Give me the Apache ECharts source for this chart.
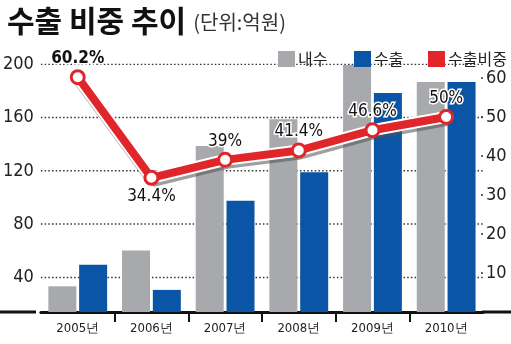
<!DOCTYPE html>
<html>
<head>
<meta charset="utf-8">
<script src="https://cdn.jsdelivr.net/npm/echarts@6/dist/echarts.min.js"></script>
<style>
html,body{margin:0;padding:0;background:#fff;}
#chart{width:511px;height:344px;}
</style>
</head>
<body>
<div id="chart"></div>
<script>
const categories = ['2005년', '2006년', '2007년', '2008년', '2009년', '2010년'];
const domestic = [33.3, 60.2, 138.7, 158.7, 199.5, 186.8];
const exportsAmt = [49.5, 30.6, 97.5, 119, 178.5, 186.8];
const exportShare = [60.2, 34.4, 39, 41.4, 46.6, 50];
const shareLabels = ['60.2%', '34.4%', '39%', '41.4%', '46.6%', '50%'];
const leftTicks = [40, 80, 120, 160, 200];
const rightTicks = [10, 20, 30, 40, 50, 60];
const boundaryTicks = [1, 2, 3, 4, 5];

const NARROW = "'DejaVu Sans Condensed', 'Liberation Sans', sans-serif";
const KR = "'Noto Sans CJK KR', sans-serif";
const RED = '#e0262b';
const GRAY = '#a7a9ac';
const BLUE = '#0a55a5';

const labelBelow = {1: true};

const legendBase = {
  top: 46, icon: 'rect', itemWidth: 17, itemHeight: 16,
  textStyle: {fontSize: 16, fontFamily: KR, color: '#222', padding: [0, 0, 0, -2]}
};

const gridSeries = leftTicks.map(v => ({
  name: '_grid' + v, type: 'line', xAxisIndex: 1, yAxisIndex: 0,
  data: [[0, v], [categories.length, v]],
  symbol: 'none', silent: true, z: 1,
  lineStyle: {type: [1.5, 2.2], color: '#333', width: 1.5}
}));

const chart = echarts.init(document.getElementById('chart'), null, {renderer: 'canvas'});
chart.setOption({
  animation: false,
  backgroundColor: '#fff',
  title: {
    text: '{a|수출 비중 추이} {b|(단위:억원)}',
    left: 2, top: 1,
    textStyle: {
      rich: {
        a: {fontSize: 30, fontWeight: 'bold', fontFamily: KR, color: '#111'},
        b: {fontSize: 20, fontWeight: 'normal', fontFamily: KR, color: '#333', padding: [2, 0, 0, 2]}
      }
    }
  },
  legend: [
    Object.assign({}, legendBase, {left: 273, data: [{name: '내수'}]}),
    Object.assign({}, legendBase, {left: 349, data: [{name: '수출'}]}),
    Object.assign({}, legendBase, {left: 423, data: [{name: '수출비중', itemStyle: {color: RED, borderWidth: 0}}]})
  ],
  grid: {left: 34.5, right: 28, top: 64.3, bottom: 32},
  xAxis: [
    {
      type: 'category', data: categories,
      axisLine: {lineStyle: {color: '#111', width: 3}},
      axisTick: {show: false},
      axisLabel: {fontSize: 13, fontFamily: NARROW, color: '#222', margin: 10}
    },
    {
      type: 'value', min: 0, max: categories.length, position: 'bottom',
      axisLine: {show: false}, splitLine: {show: false},
      axisLabel: {show: false},
      axisTick: {show: true, customValues: boundaryTicks, length: 10, lineStyle: {color: '#111', width: 2}}
    }
  ],
  yAxis: [
    {
      type: 'value', min: 14, max: 200,
      axisLine: {show: false}, axisTick: {show: false}, splitLine: {show: false},
      axisLabel: {customValues: leftTicks, fontSize: 18, fontFamily: NARROW, color: '#222', margin: 7}
    },
    {
      type: 'value', min: 0, max: 63.5, position: 'right',
      axisLine: {show: false}, splitLine: {show: false},
      axisTick: {show: true, inside: true, length: 2, customValues: rightTicks, lineStyle: {color: '#333', width: 1.5}},
      axisLabel: {customValues: rightTicks, fontSize: 18, fontFamily: NARROW, color: '#222', margin: 3}
    }
  ],
  graphic: [
    {type: 'line', shape: {x1: 0, y1: 312, x2: 36, y2: 312}, style: {stroke: '#111', lineWidth: 3}, silent: true},
    {type: 'line', shape: {x1: 482, y1: 312, x2: 511, y2: 312}, style: {stroke: '#111', lineWidth: 3}, silent: true}
  ],
  series: gridSeries.concat([
    {
      name: '내수', type: 'bar', data: domestic,
      barWidth: 28, barGap: '10%',
      itemStyle: {color: GRAY},
      z: 2
    },
    {
      name: '수출', type: 'bar', data: exportsAmt,
      barWidth: 28, barGap: '10%',
      itemStyle: {color: BLUE},
      z: 2
    },
    {
      name: '_edge', type: 'line', yAxisIndex: 1, data: exportShare,
      symbol: 'none', silent: true, z: 3,
      lineStyle: {color: '#fff', width: 12, shadowColor: 'rgba(80,80,80,0.55)', shadowOffsetX: 1.5, shadowOffsetY: 3, shadowBlur: 0}
    },
    {
      name: '수출비중', type: 'line', yAxisIndex: 1,
      data: exportShare.map((v, i) => ({
        value: v,
        label: {position: labelBelow[i] ? 'bottom' : 'top', formatter: shareLabels[i], fontWeight: i === 0 ? 'bold' : 'normal'}
      })),
      z: 4,
      symbol: 'circle', symbolSize: 13,
      lineStyle: {color: RED, width: 8},
      itemStyle: {color: '#fff', borderColor: RED, borderWidth: 3},
      label: {
        show: true, distance: 2,
        fontSize: 17, fontFamily: NARROW, color: '#111',
        textBorderColor: '#fff', textBorderWidth: 3
      }
    }
  ])
});
</script>
</body>
</html>
